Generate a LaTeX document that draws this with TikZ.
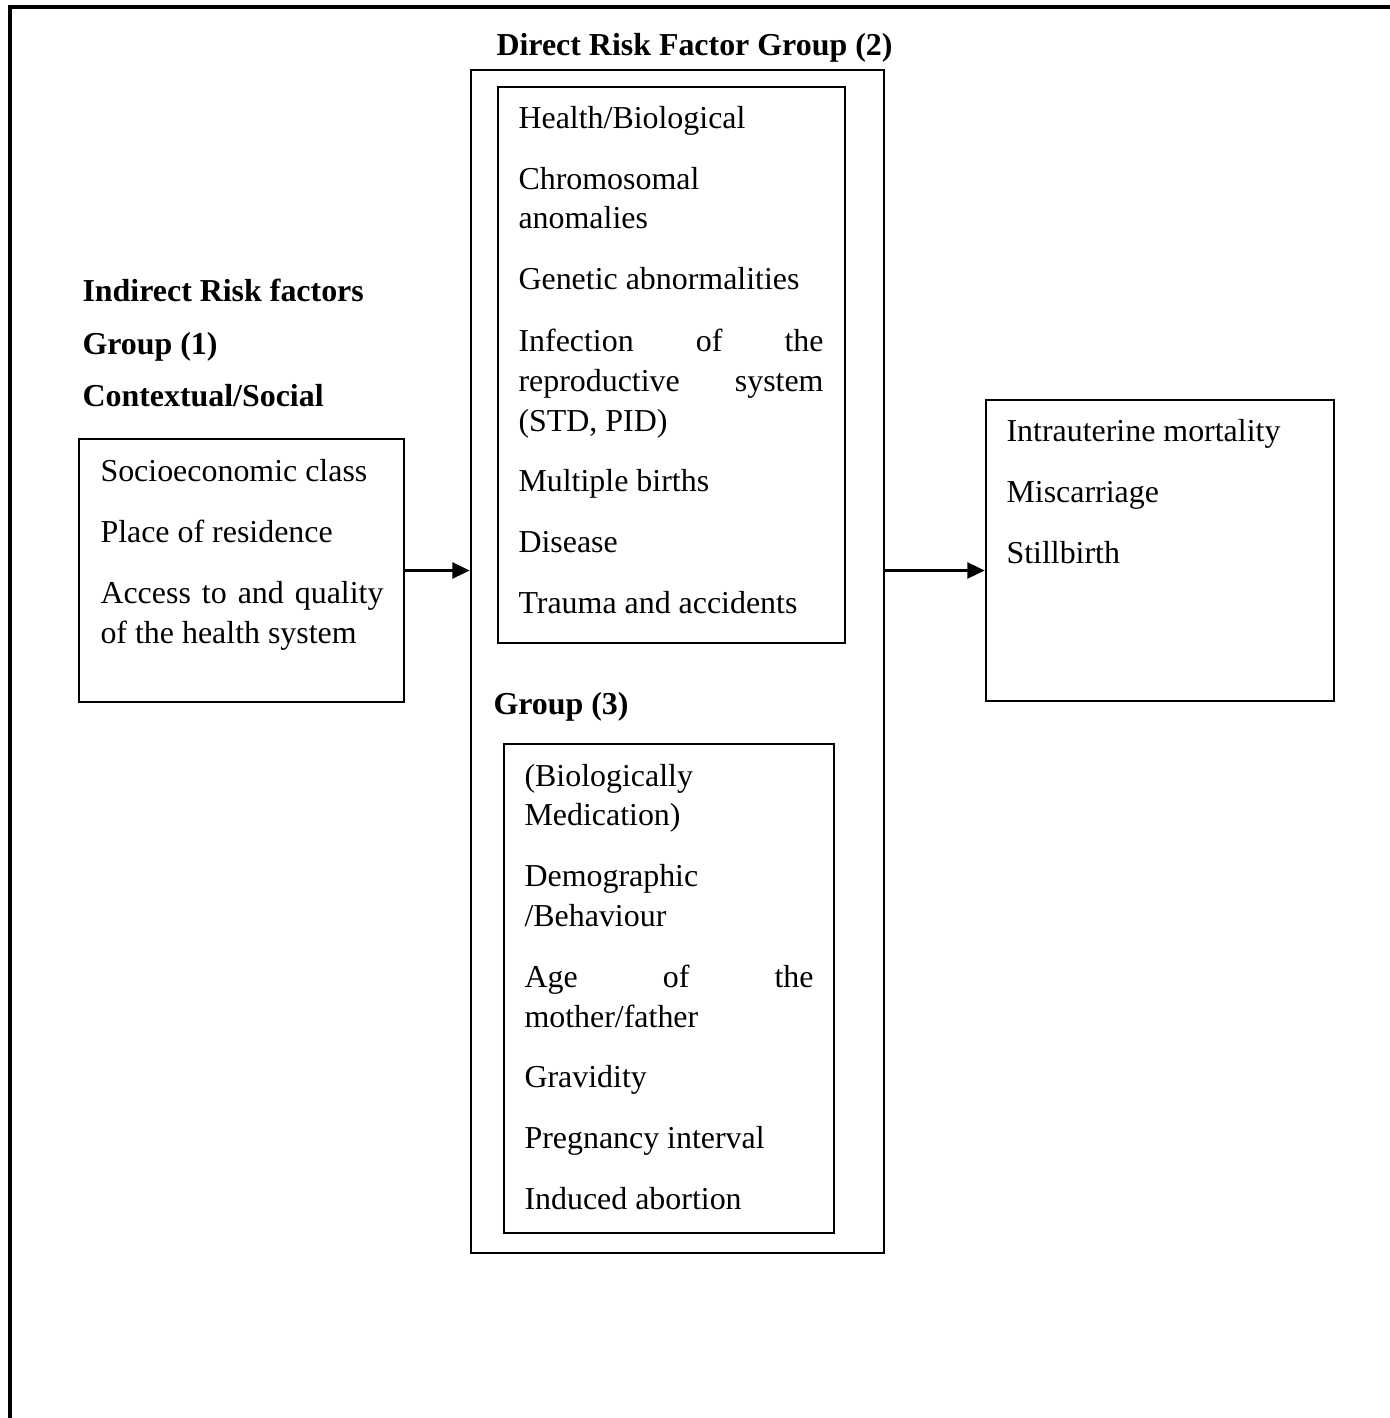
\documentclass[tikz,border=0pt]{standalone}
\usepackage{fontspec}
\setmainfont{Liberation Serif}
\usepackage{tikz}
\usetikzlibrary{arrows.meta,fit}
\tikzset{
  frame/.style={draw=black, line width=1pt, rectangle, inner sep=0pt},
  outer/.style={draw=black, line width=1.3pt},
  item/.style={anchor=base west, inner sep=0pt, yshift=-0.7pt, font=\fontsize{12}{15}\selectfont},
  head/.style={item, font=\fontsize{12}{15}\selectfont\bfseries},
  fillline/.style={item, text width=#1, align=left},
  link/.style={draw=black, line width=1pt, -{Triangle[length=6.5pt,width=6pt]}}
}

\begin{document}
\begin{tikzpicture}[x=0.01322cm, y=-0.01322cm]
  \useasboundingbox (0,0) rectangle (1390,1418);
  \draw[outer] (10,1418) -- (10,7) -- (1390,7);

  % boxes
  \node[frame, fit={(471,70) (884,1253)}] (direct) {};
  \node[frame, fit={(498,87) (845,643)}] (bio) {};
  \node[frame, fit={(504,744) (834,1233)}] (demo) {};
  \node[frame, fit={(79,439) (404,702)}] (ctx) {};
  \node[frame, fit={(986,400) (1334,701)}] (outcome) {};

  % headings
  \node[head] (ttl) at (496,54) {Direct Risk Factor Group (2)};
  \node[head] (grp3) at (493,713) {Group (3)};
  \node[head] (ind1) at (82,300) {Indirect Risk factors};
  \node[head] (ind2) at (82,353) {Group (1)};
  \node[head] (ind3) at (82,405) {Contextual/Social};

  % group 1
  \foreach \y/\t [count=\i] in {480/{Socioeconomic class}, 541/{Place of residence}, 642/{of the health system}}
    \node[item] (ctx\i) at (100,\y) {\t};
  \node[fillline=3.74cm] (ctx4) at (100,602) {Access\hfill to\hfill and\hfill quality};

  % group 2
  \foreach \y/\t [count=\i] in {127/{Health/Biological}, 188/Chromosomal, 227/anomalies,
      288/{Genetic abnormalities}, 430/{(STD, PID)}, 490/{Multiple births}, 551/Disease,
      612/{Trauma and accidents}}
    \node[item] (bio\i) at (518,\y) {\t};
  \node[fillline=4.03cm] (bio9) at (518,350) {Infection\hfill of\hfill the};
  \node[fillline=4.03cm] (bio10) at (518,390) {reproductive\hfill system};

  % group 3
  \foreach \y/\t [count=\i] in {785/(Biologically, 824/Medication), 885/Demographic,
      925/{/Behaviour}, 1026/{mother/father}, 1086/Gravidity, 1147/{Pregnancy interval},
      1208/{Induced abortion}}
    \node[item] (demo\i) at (524,\y) {\t};
  \node[fillline=3.82cm] (demo9) at (524,986) {Age\hfill of\hfill the};

  % outcomes
  \foreach \y/\t [count=\i] in {440/{Intrauterine mortality}, 501/Miscarriage, 562/Stillbirth}
    \node[item] (out\i) at (1006,\y) {\t};

  \draw[link] (ctx.east) -- (ctx.east -| direct.west);
  \draw[link] (ctx.east -| direct.east) -- (ctx.east -| outcome.west);
\end{tikzpicture}
\end{document}
